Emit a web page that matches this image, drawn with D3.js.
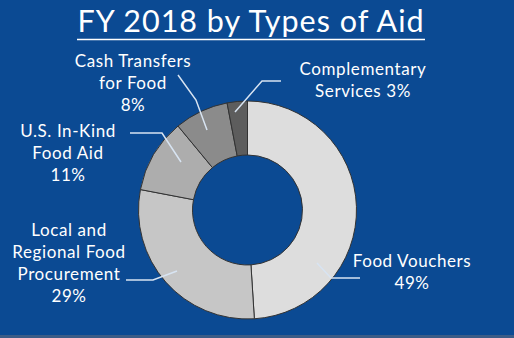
<!DOCTYPE html>
<html><head><meta charset="utf-8">
<script src="https://cdn.jsdelivr.net/npm/d3@7"></script>
<style>body{margin:0;background:#0b4a93;}svg{display:block;}</style>
</head><body>
<svg id="c" width="514" height="338"></svg>
<script>
const categories = ["Food Vouchers","Local and Regional Food Procurement","U.S. In-Kind Food Aid","Cash Transfers for Food","Complementary Services"];
const values = [49, 29, 11, 8, 3];
const colors = ["#dddddd","#c6c6c6","#adadad","#8b8b8b","#5d5d5d"];
const labelLines = [
  ["Food Vouchers","49%"],
  ["Local and","Regional Food","Procurement","29%"],
  ["U.S. In-Kind","Food Aid","11%"],
  ["Cash Transfers","for Food","8%"],
  ["Complementary","Services 3%"]
];
// layout (positions only)
const labelPos = [[412,267],[69,236],[68,137],[133,67],[363,75]];
const leaders = [
  [[317,263],[331,278],[360,278]],
  [[177,271],[153,280],[126,280]],
  [[181,162],[162,133],[130,133]],
  [[207,130],[196,100],[178,75]],
  [[235,112],[262,81],[281,81]]
];

const svg = d3.select("#c");
const W=514,H=338;
svg.append("rect").attr("width",W).attr("height",H).attr("fill","#0b4a93");
svg.append("rect").attr("y",335).attr("width",W).attr("height",3).attr("fill","#3b5c87");

const font = "'Lato','Open Sans',sans-serif";
svg.append("text").attr("x",251).attr("y",32).attr("text-anchor","middle")
  .attr("fill","#fff").attr("font-family",font).attr("font-size",30.5)
  .attr("letter-spacing",1)
  .text("FY 2018 by Types of Aid");
svg.append("line").attr("x1",77).attr("x2",425).attr("y1",39.5).attr("y2",39.5)
  .attr("stroke","#fff").attr("stroke-width",1.5);

const cx=247.5, cy=210, R=109, r=55;
const pie = d3.pie().sort(null).value(d=>d);
const arc = d3.arc().innerRadius(r).outerRadius(R);
const g = svg.append("g").attr("transform",`translate(${cx},${cy})`);
g.selectAll("path").data(pie(values)).join("path")
  .attr("d",arc).attr("fill",(d,i)=>colors[i])
  .attr("stroke","#333").attr("stroke-width",1);

const line = d3.line();
svg.selectAll("path.leader").data(leaders).join("path").attr("class","leader")
  .attr("d",d=>line(d)).attr("fill","none").attr("stroke","#d8e4f2").attr("stroke-width",1.5);

labelLines.forEach((lines,i)=>{
  const t = svg.append("text").attr("text-anchor","middle").attr("fill","#fff")
    .attr("font-family",font).attr("font-size",17).attr("letter-spacing",0.6);
  lines.forEach((s,j)=>{
    t.append("tspan").attr("x",labelPos[i][0]).attr("y",labelPos[i][1]+j*22).text(s);
  });
});
</script>
</body></html>
